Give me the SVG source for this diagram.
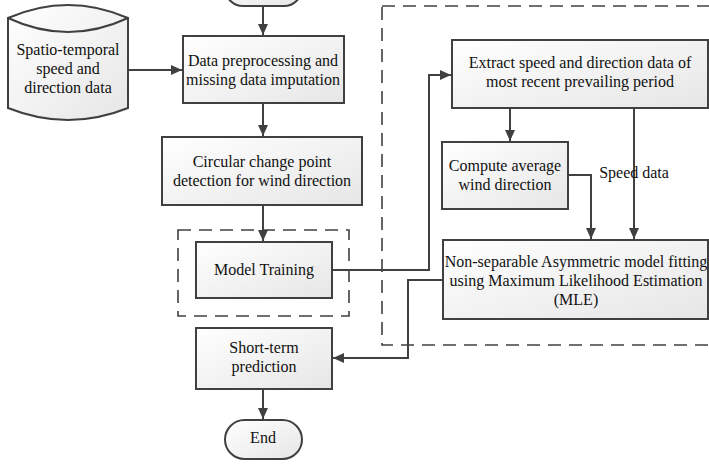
<svg xmlns="http://www.w3.org/2000/svg" width="709" height="464" viewBox="0 0 709 464">
  <defs>
    <linearGradient id="boxFill" x1="0" y1="0" x2="1" y2="1">
      <stop offset="0" stop-color="#ffffff"/>
      <stop offset="1" stop-color="#e6e6e6"/>
    </linearGradient>
    <marker id="arrow" markerUnits="userSpaceOnUse" markerWidth="12" markerHeight="10" refX="11" refY="5" orient="auto">
      <path d="M0,0 L11,5 L0,10 Z" fill="#404040"/>
    </marker>
  </defs>
  <style>
    .shape { fill: url(#boxFill); stroke: #404040; stroke-width: 2; }
    .dash { fill: none; stroke: #404040; stroke-width: 1.6; stroke-dasharray: 13 8; }
    .link { fill: none; stroke: #404040; stroke-width: 2; }
    .arr { marker-end: url(#arrow); }
    text { font-family: "Liberation Serif", "Times New Roman", serif; font-size: 16px; fill: #111; text-anchor: middle; }
  </style>

  <rect width="709" height="464" fill="#ffffff"/>

  <!-- dashed grouping frames -->
  <g id="frames">
    <rect class="dash" x="382" y="6" width="340" height="339"/>
    <rect class="dash" x="178" y="230" width="171" height="86"/>
  </g>

  <!-- connectors -->
  <g id="connectors">
    <path class="link arr" d="M263,6 L263,35"/>
    <path class="link arr" d="M128,70 L182,70"/>
    <path class="link arr" d="M263,103 L263,136"/>
    <path class="link arr" d="M263,205 L263,241"/>
    <path class="link arr" d="M332,270 L429,270 L429,75 L451,75"/>
    <path class="link arr" d="M510,108 L510,141"/>
    <path class="link arr" d="M568,175 L591,175 L591,239"/>
    <path class="link arr" d="M634,108 L634,239"/>
    <path class="link arr" d="M443,280 L408,280 L408,358 L333,358"/>
    <path class="link arr" d="M263,389 L263,419"/>
  </g>

  <g id="start">
    <rect class="shape" x="225" y="-30" width="77" height="36" rx="18"/>
  </g>

  <g id="source-data">
    <path class="shape" d="M8,18 Q68,-8 128,18 L128,108 Q68,132 8,108 Z"/>
    <path class="link" d="M8,18 Q68,46 128,18"/>
    <text x="68" y="55">Spatio-temporal</text>
    <text x="68" y="74">speed and</text>
    <text x="68" y="93">direction data</text>
  </g>

  <g id="preprocess">
    <rect class="shape" x="183" y="36" width="161" height="67"/>
    <text x="263" y="66">Data preprocessing and</text>
    <text x="263" y="85">missing data imputation</text>
  </g>

  <g id="change-point">
    <rect class="shape" x="162" y="137" width="200" height="68"/>
    <text x="262" y="167">Circular change point</text>
    <text x="262" y="186">detection for wind direction</text>
  </g>

  <g id="model-training">
    <rect class="shape" x="196" y="242" width="136" height="56"/>
    <text x="264" y="275">Model Training</text>
  </g>

  <g id="extract">
    <rect class="shape" x="452" y="40" width="256" height="68"/>
    <text x="580" y="68">Extract speed and direction data of</text>
    <text x="580" y="87">most recent prevailing period</text>
  </g>

  <g id="avg-direction">
    <rect class="shape" x="442" y="142" width="126" height="67"/>
    <text x="505" y="171">Compute average</text>
    <text x="505" y="190">wind direction</text>
  </g>

  <g id="speed-label">
    <text x="634" y="178" style="text-anchor: middle; paint-order: stroke; stroke: #ffffff; stroke-width: 0;">Speed data</text>
  </g>

  <g id="mle-fit">
    <rect class="shape" x="443" y="240" width="265" height="79"/>
    <text x="576" y="267">Non-separable Asymmetric model fitting</text>
    <text x="576" y="286">using Maximum Likelihood Estimation</text>
    <text x="576" y="305">(MLE)</text>
  </g>

  <g id="prediction">
    <rect class="shape" x="196" y="328" width="136" height="61"/>
    <text x="264" y="353">Short-term</text>
    <text x="264" y="372">prediction</text>
  </g>

  <g id="end">
    <rect class="shape" x="225" y="420" width="77" height="39" rx="19.5"/>
    <text x="263" y="443">End</text>
  </g>
</svg>
